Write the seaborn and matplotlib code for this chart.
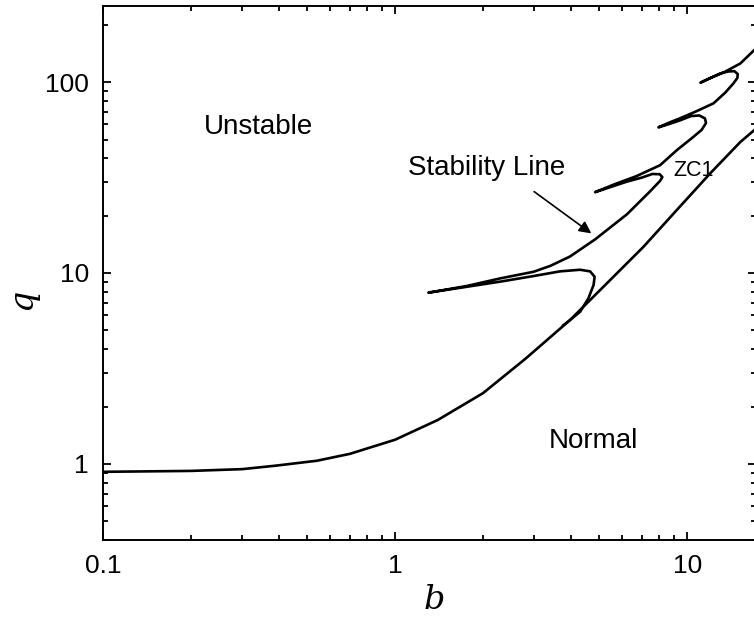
import numpy as np
import pandas as pd
import seaborn as sns
import matplotlib.pyplot as plt
from matplotlib.ticker import LogLocator, NullFormatter, FixedLocator, FixedFormatter

# ZC1 boundary (lower curve)
zc1_b = [0.1, 0.2, 0.3, 0.39, 0.54, 0.70, 1.0, 1.4, 2.0, 2.79, 3.97, 5.45, 7.08, 9.22, 12.0, 15.2, 17.2]
zc1_q = [0.91, 0.92, 0.94, 0.98, 1.04, 1.13, 1.34, 1.70, 2.35, 3.55, 5.67, 9.19, 13.7, 21.4, 33.3, 48.5, 57.0]

# Stability line (one continuous path with swallowtails)
stab_b = [3.75, 3.97, 4.30, 4.59, 4.78, 4.82, 4.65, 4.30, 3.67, 2.98, 2.29, 1.76, 1.30,
          1.76, 2.29, 2.98, 3.40, 3.97, 4.84, 6.22, 7.47, 8.08, 8.22, 8.05, 7.6, 7.0, 6.22, 4.84,
          5.59, 6.72, 8.08, 9.22, 10.4, 11.2, 11.6, 11.5, 11.0, 10.3, 9.46, 8.6, 7.97,
          8.7, 9.46, 10.8, 12.3, 13.5, 14.4, 14.85, 14.9, 14.5, 13.8, 13.0, 12.0, 11.1,
          12.2, 13.3, 15.2, 17.2]
stab_q = [5.3, 5.67, 6.27, 7.37, 8.65, 9.56, 10.2, 10.4, 10.2, 9.64, 9.01, 8.47, 7.89,
          8.55, 9.37, 10.15, 10.9, 12.2, 15.0, 20.3, 26.8, 30.4, 31.8, 32.9, 33.0, 31.6, 30.1, 26.5,
          29.0, 32.2, 36.7, 44.0, 51.0, 56.1, 61.0, 64.5, 66.8, 66.3, 63.0, 60.0, 57.9,
          61.4, 64.6, 70.5, 77.3, 88.0, 98.4, 105, 110, 114, 113.5, 111, 105, 99.2,
          106, 112, 125, 150]

sns.set_style("ticks")
plt.rcParams['font.family'] = ['Liberation Sans', 'DejaVu Sans']
plt.rcParams['text.color'] = 'black'
plt.rcParams['axes.labelcolor'] = 'black'
plt.rcParams['xtick.color'] = 'black'
plt.rcParams['ytick.color'] = 'black'

fig = plt.figure(figsize=(7.54, 6.17), dpi=100)
ax = fig.add_axes([103 / 754, 77 / 617, 653 / 754, 534 / 617])

zc1 = pd.DataFrame({'b': zc1_b, 'q': zc1_q})
stab = pd.DataFrame({'b': stab_b, 'q': stab_q})
sns.lineplot(data=zc1, x='b', y='q', sort=False, estimator=None, color='black', lw=1.9, ax=ax)
sns.lineplot(data=stab, x='b', y='q', sort=False, estimator=None, color='black', lw=1.9, ax=ax)

ax.set_xscale('log')
ax.set_yscale('log')
ax.set_xlim(0.1, 17.2)
ax.set_ylim(0.4, 250)

ax.xaxis.set_major_locator(FixedLocator([0.1, 1, 10]))
ax.xaxis.set_major_formatter(FixedFormatter(['0.1', '1', '10']))
ax.yaxis.set_major_locator(FixedLocator([1, 10, 100]))
ax.yaxis.set_major_formatter(FixedFormatter(['1', '10', '100']))
ax.xaxis.set_minor_locator(LogLocator(base=10, subs=np.arange(2, 10)))
ax.yaxis.set_minor_locator(LogLocator(base=10, subs=np.arange(2, 10)))
ax.xaxis.set_minor_formatter(NullFormatter())
ax.yaxis.set_minor_formatter(NullFormatter())

ax.tick_params(which='both', direction='in', top=True, right=True, width=1.3)
ax.tick_params(which='major', length=6, labelsize=19, pad=10)
ax.tick_params(which='minor', length=3.5)
for s in ax.spines.values():
    s.set_linewidth(1.4)
    s.set_color('black')

ax.set_xlabel('b', fontsize=24, family='DejaVu Serif', style='italic')
ax.set_ylabel('q', fontsize=24, family='DejaVu Serif', style='italic')
ax.xaxis.set_label_coords(0.508, -0.082)
ax.yaxis.set_label_coords(-0.1, 0.45)

ax.text(0.34, 58, 'Unstable', fontsize=20, ha='center', va='center')
ax.text(2.05, 35.5, 'Stability Line', fontsize=20, ha='center', va='center')
ax.text(10.5, 34.6, 'ZC1', fontsize=15.5, ha='center', va='center')
ax.text(4.76, 1.32, 'Normal', fontsize=20, ha='center', va='center')
ax.annotate('', xy=(4.78, 15.8), xytext=(2.94, 27.2),
            arrowprops=dict(arrowstyle='-|>', color='black', lw=1.2, mutation_scale=18))

fig.savefig('out.png', dpi=100)
